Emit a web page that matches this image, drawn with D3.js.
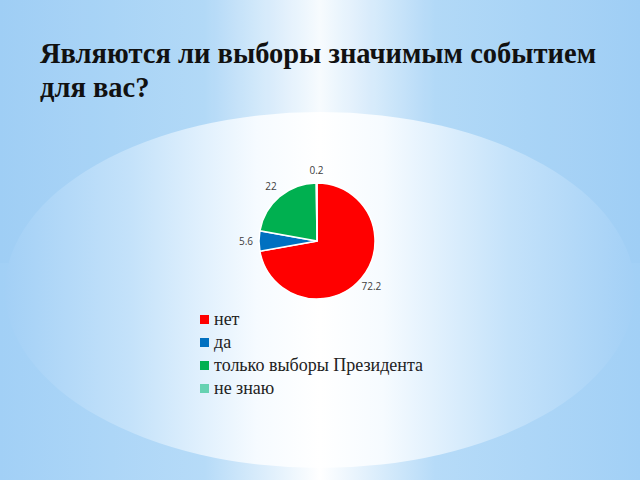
<meta charset="utf-8">
<title>Являются ли выборы значимым событием для вас?</title>
<script src="https://d3js.org/d3.v7.min.js"></script>
<style>
  body { margin: 0; }
  svg { display: block; }
</style>
<body>
<svg width="640" height="480"></svg>
<script>

  // data
  const categories = ['нет', 'да', 'только выборы Президента', 'не знаю']
  const values = [72.2, 5.6, 22, 0.2]
  const colors = ['#ff0000', '#0070c0', '#00b050', '#66d2b2']
  const titleLines = ['Являются ли выборы значимым событием', 'для вас?']

  const svg = d3.select('svg')
  const defs = svg.append('defs')

  // slide background: light blue edges, white stripe in the middle
  const lg = defs.append('linearGradient').attr('id', 'bg')
  lg.append('stop').attr('offset', '0%').attr('stop-color', '#a2d0f6')
  lg.append('stop').attr('offset', '32%').attr('stop-color', '#b6dbf8')
  lg.append('stop').attr('offset', '50%').attr('stop-color', '#ffffff')
  lg.append('stop').attr('offset', '68%').attr('stop-color', '#b6dbf8')
  lg.append('stop').attr('offset', '100%').attr('stop-color', '#a2d0f6')

  // the big oval: same idea, but lighter in the middle
  const og = defs.append('linearGradient').attr('id', 'glow')
  og.append('stop').attr('offset', '0%').attr('stop-color', '#a3d0f6')
  og.append('stop').attr('offset', '20%').attr('stop-color', '#c4e2fa')
  og.append('stop').attr('offset', '40%').attr('stop-color', '#f6fbff')
  og.append('stop').attr('offset', '50%').attr('stop-color', '#ffffff')
  og.append('stop').attr('offset', '60%').attr('stop-color', '#f6fbff')
  og.append('stop').attr('offset', '80%').attr('stop-color', '#c4e2fa')
  og.append('stop').attr('offset', '100%').attr('stop-color', '#a3d0f6')

  svg.append('rect').attr('width', 640).attr('height', 480).attr('fill', 'url(#bg)')
  svg.append('rect').attr('width', 640).attr('height', 263)
    .attr('fill', '#7fbff0').attr('opacity', 0.06)
  svg.append('ellipse')
    .attr('cx', 320).attr('cy', 290).attr('rx', 315).attr('ry', 178)
    .attr('fill', 'url(#glow)')

  // title
  svg.append('g').selectAll('text')
    .data(titleLines)
    .join('text')
      .attr('x', 40)
      .attr('y', (d, i) => 63 + i * 34)
      .attr('font-family', '"Liberation Serif", serif')
      .attr('font-weight', 'bold')
      .attr('font-size', 28.5)
      .attr('fill', '#111')
      .text(d => d)

  // pie
  const cx = 317, cy = 241, r = 58

  const pie = d3.pie().sort(null).value(d => d)
  const arcs = pie(values)
  const arc = d3.arc().innerRadius(0).outerRadius(r)
  const labelArc = d3.arc().innerRadius(71).outerRadius(71)

  const g = svg.append('g').attr('transform', `translate(${cx},${cy})`)

  g.selectAll('path')
    .data(arcs)
    .join('path')
      .attr('d', arc)
      .attr('fill', (d, i) => colors[i])
      .attr('stroke', '#fff')
      .attr('stroke-width', 1.5)

  g.selectAll('text')
    .data(arcs)
    .join('text')
      .attr('transform', d => `translate(${labelArc.centroid(d)})`)
      .attr('text-anchor', 'middle')
      .attr('dy', '0.35em')
      .attr('font-family', '"Open Sans", sans-serif')
      .attr('font-size', 10)
      .attr('fill', '#404040')
      .text(d => d.data)

  // legend
  const legend = svg.append('g').attr('transform', 'translate(200,315)')
  const rows = legend.selectAll('g')
    .data(categories)
    .join('g')
      .attr('transform', (d, i) => `translate(0,${i * 23})`)

  rows.append('rect')
    .attr('width', 9).attr('height', 9)
    .attr('fill', (d, i) => colors[i])

  rows.append('text')
    .attr('x', 14).attr('y', 10)
    .attr('font-family', '"Liberation Serif", serif')
    .attr('font-size', 18)
    .attr('fill', '#222')
    .text(d => d)

</script>
</body>
